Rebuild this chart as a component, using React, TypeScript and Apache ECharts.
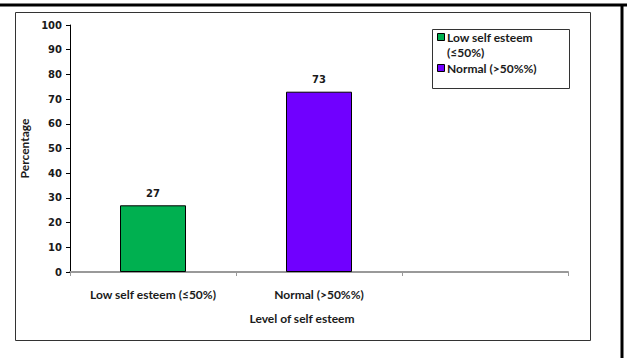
import React, { useEffect, useRef } from "react";
import * as echarts from "echarts";

const categories = ["Low self esteem (≤50%)", "Normal (>50%%)", ""];
const lowValues = [27, "-", "-"];
const normalValues = ["-", 73, "-"];
const seriesNames = ["Low self esteem (≤50%)", "Normal (>50%%)"];
const legendLines = [["Low self esteem", "(≤50%)"], ["Normal (>50%%)"]];
const colors = ["#00b050", "#7000ff"];
const yTicks = { min: 0, max: 100, interval: 10 };

const labelFont = "Lato";
const numFont = "DejaVu Sans";

export default function App() {
  const ref = useRef<HTMLDivElement>(null);
  useEffect(() => {
    document.body.style.margin = "0";
    const chart = echarts.init(ref.current!, null, { renderer: "svg" });
    chart.setOption({
      animation: false,
      backgroundColor: "#ffffff",
      grid: { left: 70, right: 59, top: 25, bottom: 86 },
      xAxis: {
        type: "category",
        data: categories,
        boundaryGap: true,
        axisLine: { show: true, lineStyle: { color: "#999999", width: 2 } },
        axisTick: { show: true, length: 4, lineStyle: { color: "#999999", width: 1 } },
        axisLabel: {
          margin: 16,
          fontFamily: labelFont,
          fontWeight: "bold",
          fontSize: 12,
          color: "#1a1a1a",
        },
      },
      yAxis: {
        type: "value",
        min: yTicks.min,
        max: yTicks.max,
        interval: yTicks.interval,
        name: "Percentage",
        nameLocation: "middle",
        nameGap: 39,
        nameTextStyle: { fontFamily: labelFont, fontWeight: "bold", fontSize: 12, color: "#1a1a1a" },
        axisLine: { show: true, lineStyle: { color: "#000000", width: 1 } },
        axisTick: { show: true, length: 4, lineStyle: { color: "#000000" } },
        splitLine: { show: false },
        axisLabel: {
          margin: 8,
          fontFamily: numFont,
          fontWeight: "bold",
          fontSize: 10,
          color: "#1a1a1a",
        },
      },
      legend: { show: false },
      series: [
        {
          name: seriesNames[0],
          type: "bar",
          stack: "s",
          data: lowValues,
          barWidth: 66,
          itemStyle: { color: colors[0], borderColor: "#000000", borderWidth: 1 },
          label: {
            show: true,
            position: "top",
            distance: 7,
            fontFamily: numFont,
            fontWeight: "bold",
            fontSize: 10,
            color: "#1a1a1a",
          },
        },
        {
          name: seriesNames[1],
          type: "bar",
          stack: "s",
          data: normalValues,
          barWidth: 66,
          itemStyle: { color: colors[1], borderColor: "#000000", borderWidth: 1 },
          label: {
            show: true,
            position: "top",
            distance: 7,
            fontFamily: numFont,
            fontWeight: "bold",
            fontSize: 10,
            color: "#1a1a1a",
          },
        },
      ],
      graphic: [
        { type: "line", shape: { x1: 0, y1: 5, x2: 627, y2: 5 }, style: { stroke: "#000", lineWidth: 3 } },
        { type: "line", shape: { x1: 622, y1: 5, x2: 622, y2: 358 }, style: { stroke: "#000", lineWidth: 3 } },
        { type: "rect", shape: { x: 15.5, y: 12.5, width: 575, height: 328 }, style: { fill: "none", stroke: "#333", lineWidth: 1 }, silent: true },
        {
          type: "text",
          x: 302,
          y: 318,
          style: {
            text: "Level of self esteem",
            fontFamily: labelFont,
            fontWeight: "bold",
            fontSize: 12,
            fill: "#1a1a1a",
            align: "center",
            verticalAlign: "middle",
          },
        },
        { type: "rect", shape: { x: 432.5, y: 29.5, width: 137, height: 59 }, style: { fill: "#fff", stroke: "#333", lineWidth: 1 } },
        { type: "rect", shape: { x: 437.5, y: 33.5, width: 7, height: 7 }, style: { fill: colors[0], stroke: "#000", lineWidth: 1 } },
        { type: "rect", shape: { x: 437.5, y: 64.5, width: 7, height: 7 }, style: { fill: colors[1], stroke: "#000", lineWidth: 1 } },
        {
          type: "text",
          x: 447,
          y: 37,
          style: { text: legendLines[0][0], fontFamily: labelFont, fontWeight: "bold", fontSize: 12, fill: "#1a1a1a", verticalAlign: "middle" },
        },
        {
          type: "text",
          x: 447,
          y: 52,
          style: { text: legendLines[0][1], fontFamily: labelFont, fontWeight: "bold", fontSize: 12, fill: "#1a1a1a", verticalAlign: "middle" },
        },
        {
          type: "text",
          x: 447,
          y: 68,
          style: { text: legendLines[1][0], fontFamily: labelFont, fontWeight: "bold", fontSize: 12, fill: "#1a1a1a", verticalAlign: "middle" },
        },
      ],
    });
    return () => chart.dispose();
  }, []);
  return <div ref={ref} style={{ width: 627, height: 358, position: "absolute", left: 0, top: 0 }} />;
}
